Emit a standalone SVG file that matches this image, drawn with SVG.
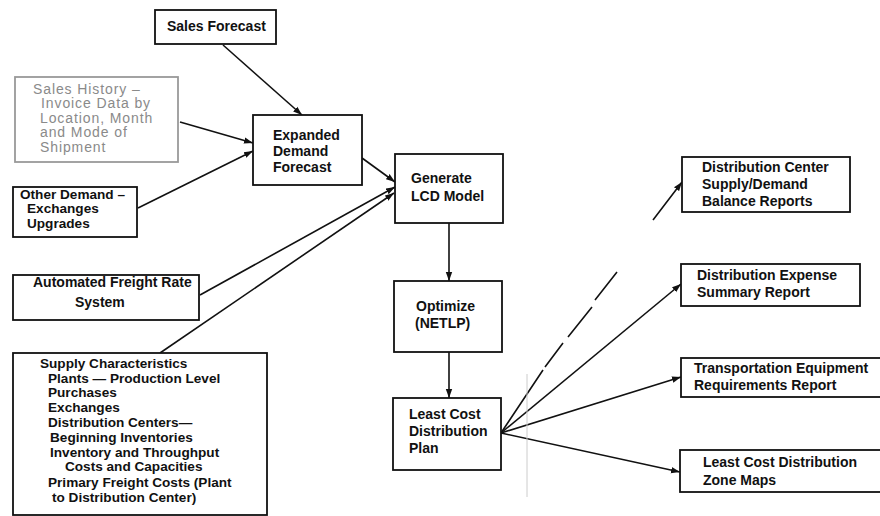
<svg xmlns="http://www.w3.org/2000/svg" width="880" height="516" viewBox="0 0 880 516">
<style>
.box{fill:#fff;stroke:#111;stroke-width:1.8}
.gbox{fill:#fff;stroke:#999;stroke-width:1.8}
.t{font-family:"Liberation Sans",Arial,sans-serif;font-size:14px;font-weight:bold;fill:#111}
.s{font-size:13.6px}
.g{font-family:"Liberation Sans",Arial,sans-serif;font-size:14px;letter-spacing:0.9px;fill:#8a8a8a}
.c{fill:none;stroke:#111;stroke-width:1.6}
.f{fill:none;stroke:#ccc;stroke-width:1}
</style>
<defs>
<marker id="ah" markerUnits="userSpaceOnUse" markerWidth="10" markerHeight="8" refX="9" refY="4" orient="auto">
<path d="M0,0.8 L9,4 L0,7.2 Z" fill="#111"/>
</marker>
</defs>
<rect width="880" height="516" fill="#fff"/>
<g id="connectors">
<line class="c" x1="223" y1="45" x2="302" y2="115" marker-end="url(#ah)"/>
<line class="c" x1="180" y1="122" x2="253" y2="143" marker-end="url(#ah)"/>
<line class="c" x1="138" y1="208" x2="253" y2="151" marker-end="url(#ah)"/>
<line class="c" x1="362" y1="158" x2="395" y2="182" marker-end="url(#ah)"/>
<line class="c" x1="200" y1="295" x2="395" y2="187" marker-end="url(#ah)"/>
<line class="c" x1="160" y1="353" x2="394" y2="193" marker-end="url(#ah)"/>
<line class="c" x1="449" y1="223" x2="449" y2="281" marker-end="url(#ah)"/>
<line class="c" x1="449" y1="352" x2="449" y2="398" marker-end="url(#ah)"/>
<path class="c" d="M501,433 L543,370 M545,367 L563,343 M568,337 L592,307 M595,300 L617,272 M653,220 L682,182" marker-end="url(#ah)"/>
<line class="c" x1="501" y1="433" x2="681" y2="284" marker-end="url(#ah)"/>
<line class="c" x1="501" y1="433" x2="681" y2="377" marker-end="url(#ah)"/>
<line class="c" x1="501" y1="433" x2="680" y2="472" marker-end="url(#ah)"/>
<line class="f" x1="527" y1="374" x2="527" y2="497"/>
</g>
<g id="sales-forecast">
<rect class="box" x="155" y="10" width="121" height="34"/>
<text class="t" x="167" y="31">Sales Forecast</text>
</g>
<g id="sales-history">
<rect class="gbox" x="15" y="77" width="163" height="85"/>
<text class="g" x="33" y="94">Sales History –</text>
<text class="g" x="41" y="108">Invoice Data by</text>
<text class="g" x="40" y="123">Location, Month</text>
<text class="g" x="40" y="137">and Mode of</text>
<text class="g" x="40" y="152">Shipment</text>
</g>
<g id="expanded-demand">
<rect class="box" x="253" y="115" width="109" height="70"/>
<text class="t" x="273" y="140">Expanded</text>
<text class="t" x="273" y="156">Demand</text>
<text class="t" x="273" y="172">Forecast</text>
</g>
<g id="other-demand">
<rect class="box" x="13" y="187" width="124" height="50"/>
<text class="t s" x="20" y="199">Other Demand –</text>
<text class="t s" x="27" y="213">Exchanges</text>
<text class="t s" x="27" y="228">Upgrades</text>
</g>
<g id="automated-freight">
<rect class="box" x="13" y="275" width="186" height="45"/>
<text class="t" x="33" y="287">Automated Freight Rate</text>
<text class="t" x="75" y="307">System</text>
</g>
<g id="supply-characteristics">
<rect class="box" x="13" y="353" width="254" height="162"/>
<text class="t s" x="40" y="368">Supply Characteristics</text>
<text class="t s" x="48" y="383">Plants — Production Level</text>
<text class="t s" x="48" y="397">Purchases</text>
<text class="t s" x="48" y="412">Exchanges</text>
<text class="t s" x="48" y="427">Distribution Centers—</text>
<text class="t s" x="50" y="442">Beginning Inventories</text>
<text class="t s" x="50" y="457">Inventory and Throughput</text>
<text class="t s" x="65" y="471">Costs and Capacities</text>
<text class="t s" x="48" y="487">Primary Freight Costs (Plant</text>
<text class="t s" x="52" y="502">to Distribution Center)</text>
</g>
<g id="generate-lcd">
<rect class="box" x="395" y="154" width="108" height="69"/>
<text class="t" x="411" y="183">Generate</text>
<text class="t" x="411" y="201">LCD Model</text>
</g>
<g id="optimize">
<rect class="box" x="394" y="281" width="108" height="71"/>
<text class="t" x="416" y="311">Optimize</text>
<text class="t" x="415" y="328">(NETLP)</text>
</g>
<g id="least-cost-plan">
<rect class="box" x="393" y="398" width="108" height="72"/>
<text class="t" x="409" y="419">Least Cost</text>
<text class="t" x="409" y="436">Distribution</text>
<text class="t" x="409" y="453">Plan</text>
</g>
<g id="dc-balance">
<rect class="box" x="682" y="157" width="168" height="55"/>
<text class="t" x="702" y="172">Distribution Center</text>
<text class="t" x="702" y="189">Supply/Demand</text>
<text class="t" x="702" y="206">Balance Reports</text>
</g>
<g id="expense-summary">
<rect class="box" x="681" y="264" width="179" height="42"/>
<text class="t" x="697" y="280">Distribution Expense</text>
<text class="t" x="697" y="297">Summary Report</text>
</g>
<g id="transport-equipment">
<rect class="box" x="681" y="358" width="205" height="39"/>
<text class="t" x="694" y="373">Transportation Equipment</text>
<text class="t" x="694" y="390">Requirements Report</text>
</g>
<g id="zone-maps">
<rect class="box" x="680" y="450" width="206" height="42"/>
<text class="t" x="703" y="467">Least Cost Distribution</text>
<text class="t" x="703" y="485">Zone Maps</text>
</g>
</svg>
